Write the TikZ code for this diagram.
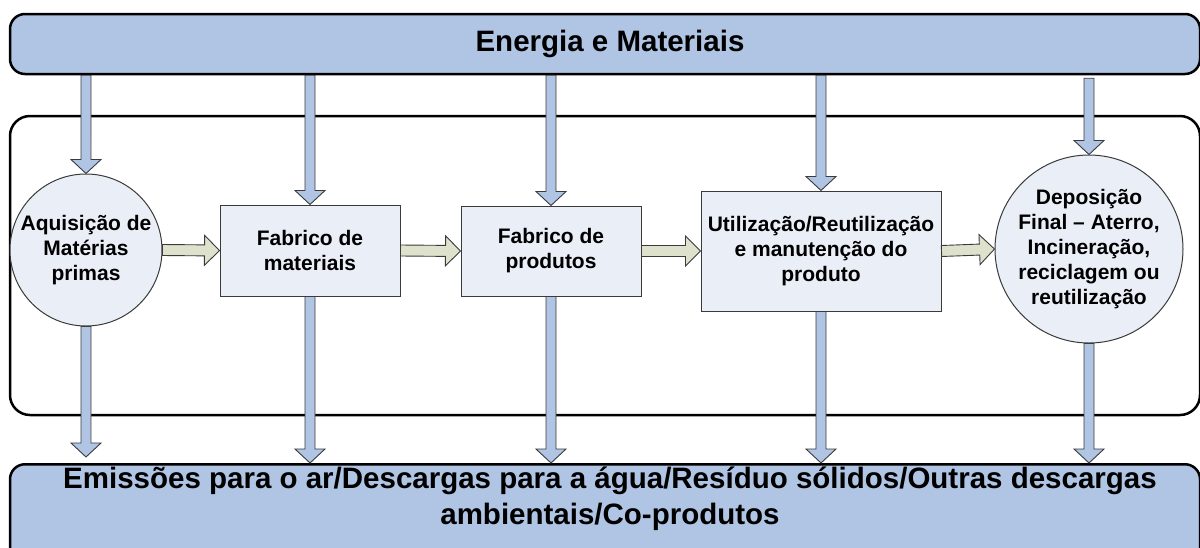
\documentclass[tikz,border=0pt]{standalone}
\usepackage{fontspec}
\setmainfont{Liberation Sans}
\usetikzlibrary{calc}
\definecolor{barblue}{HTML}{B0C4E4}
\definecolor{nodefill}{HTML}{EAEFF7}
\definecolor{harrowfill}{HTML}{DEE2CD}
\definecolor{edgegray}{HTML}{3A3A3A}
\tikzset{
  bar/.style={draw=black, line width=2.5pt, fill=barblue, rounded corners=15pt, inner sep=0pt},
  framebox/.style={draw=black, line width=2.5pt, rounded corners=20pt, inner sep=0pt},
  bigtext/.style={font=\bfseries\fontsize{29.5}{36}\selectfont, align=center, inner sep=0pt},
  stage/.style={draw=edgegray, line width=1pt, fill=nodefill, font=\bfseries\fontsize{21}{25}\selectfont, align=center, inner sep=0pt},
  vflow/.style={draw=edgegray, line width=0.9pt, fill=barblue, line join=miter,
    to path={
      ($(\tikztostart)!5pt!90:(\tikztotarget)$) --
      ($(\tikztotarget)!14.866pt!-19.65:(\tikztostart)$) --
      ($(\tikztotarget)!20.518pt!-46.97:(\tikztostart)$) --
      (\tikztotarget) --
      ($(\tikztotarget)!20.518pt!46.97:(\tikztostart)$) --
      ($(\tikztotarget)!14.866pt!19.65:(\tikztostart)$) --
      ($(\tikztostart)!5pt!-90:(\tikztotarget)$) -- cycle}},
  hflow/.style={draw=edgegray, line width=0.9pt, fill=harrowfill, line join=miter,
    to path={
      ($(\tikztostart)!5.5pt!90:(\tikztotarget)$) --
      ($(\tikztotarget)!15.977pt!-20.14:(\tikztostart)$) --
      ($(\tikztotarget)!21.213pt!-45:(\tikztostart)$) --
      (\tikztotarget) --
      ($(\tikztotarget)!21.213pt!45:(\tikztostart)$) --
      ($(\tikztotarget)!15.977pt!20.14:(\tikztostart)$) --
      ($(\tikztostart)!5.5pt!-90:(\tikztotarget)$) -- cycle}},
}
\begin{document}
\begin{tikzpicture}[x=1pt,y=-1pt]
\useasboundingbox (0,0) rectangle (1200,547);

% frame and bars
\node[framebox, minimum width=1190, minimum height=299] (frame) at (605,265.5) {};
\node[bar, bigtext, minimum width=1190, minimum height=60] (top) at (605,44) {\hspace*{10pt}Energia e Materiais};
\node[bar, minimum width=1190, minimum height=110, anchor=north] (bot) at (605,463) {};

% stages
\node[stage, circle, minimum size=152] (c1) at (86,250) {Aquisição de\\Matérias\\primas};
\node[stage, rectangle, minimum width=180, minimum height=91] (b1) at (310,250.5) {Fabrico de\\materiais};
\node[stage, rectangle, minimum width=180, minimum height=90] (b2) at (551,251) {Fabrico de\\produtos};
\node[stage, rectangle, minimum width=240, minimum height=120] (b3) at (821,251) {Utilização/Reutilização\\e manutenção do\\produto};
\node[stage, circle, minimum size=188] (c2) at (1089,249) {Deposição\\Final – Aterro,\\Incineração,\\reciclagem ou\\reutilização};

% inputs from top bar
\coordinate (in5) at ($(c2.north |- top.south)+(0,3)$);
\draw[vflow] (c1.north |- top.south) to (c1.north);
\draw[vflow] (b1.north |- top.south) to (b1.north);
\draw[vflow] (b2.north |- top.south) to (b2.north);
\draw[vflow] (b3.north |- top.south) to (b3.north);
\draw[vflow] (in5) to (c2.north);

% outputs to bottom bar
\coordinate (out1) at ($(c1.south |- bot.north)+(0,-6)$);
\draw[vflow] (c1.south) to (out1);
\draw[vflow] (b1.south) to (b1.south |- bot.north);
\draw[vflow] (b2.south) to (b2.south |- bot.north);
\draw[vflow] (b3.south) to (b3.south |- bot.north);
\draw[vflow] (c2.south) to (c2.south |- bot.north);

% flow between stages
\draw[hflow] (c1.east) to (b1.west);
\draw[hflow] (b1.east) to (b2.west);
\draw[hflow] (b2.east) to (b3.west);
\draw[hflow] (b3.east) to (c2.west);

% text of the bottom bar
\node[bigtext, anchor=north] (bottxt) at (610,467) {Emissões para o ar/Descargas para a água/Resíduo sólidos/Outras descargas\\ambientais/Co-produtos};
\end{tikzpicture}
\end{document}
